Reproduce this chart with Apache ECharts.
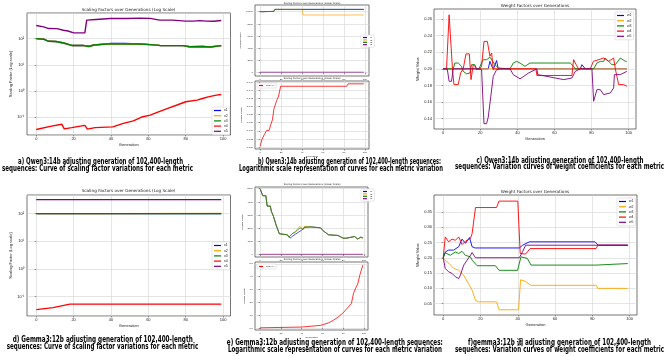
<!DOCTYPE html>
<html><head><meta charset="utf-8">
<script src="https://cdn.jsdelivr.net/npm/echarts@6/dist/echarts.min.js"></script>
<style>html,body{margin:0;padding:0;background:#fff}#c{width:668px;height:356px}</style>
</head><body><div id="c"></div>
<script>
// ---------- DATA ----------
const generationTicks = [0, 20, 40, 60, 80, 100];
const scaleNames = ['x1', 'x2', 'x3', 'x4', 'x5'];
const weightNames = ['w1', 'w2', 'w3', 'w4', 'w5'];
const bTopTicks = [0, 2000, 4000, 6000, 8000, 10000];
const bBotTicks = [0.030, 0.032, 0.034, 0.036, 0.038, 0.040, 0.042, 0.044, 0.046];
const cTicks = [0.14, 0.16, 0.18, 0.20, 0.22, 0.24, 0.26];
const eTopTicks = [0, 1000, 2000, 3000, 4000, 5000];
const eBotTicks = [0, 1, 2, 3, 4, 5];
const fTicks = [0.05, 0.10, 0.15, 0.20, 0.25, 0.30, 0.35];

// (a) Qwen3:14b scaling factors, log scale  [generation, value]
const aX1 = [[0,100],[4,95],[6.6,79],[10.5,78],[14.6,68],[19,55],[25,55],[28,51],[31,57],[37.7,63],[40,66],[47,66],[48,62],[55.5,62],[61,59],[66,55],[78.6,54],[82,49],[89,50],[93,48],[99,54]];
const aX2 = [[0,100],[4,95],[6.6,79],[10.5,78],[14.6,68],[19,55],[25,55],[28,50],[31,57],[37.7,62],[47,62],[55.5,62],[61,59],[66,55],[78.6,54],[82,49],[89,50],[93,48],[99,54]];
const aX3 = [[0,100],[4,95],[6.6,79],[10.5,78],[14.6,68],[19,55],[25,55],[28,50],[31,57],[37.7,62],[47,62],[55.5,62],[61,59],[66,55],[78.6,54],[82,49],[89,50],[93,48],[99,54]];
const aX4 = [[0,0.034],[7.5,0.045],[13.7,0.054],[15,0.036],[19,0.04],[26,0.049],[27.4,0.035],[31.5,0.04],[41,0.043],[46.6,0.058],[52,0.073],[56.4,0.102],[61,0.12],[64,0.147],[70,0.214],[75,0.287],[80,0.39],[86,0.45],[89,0.52],[92,0.6],[96.4,0.7],[99,0.74]];
const aX5 = [[0,316],[4,282],[6.6,242],[11,240],[14.6,209],[17,195],[20,165],[26,165],[27,508],[32,540],[39.5,588],[48,588],[55.5,605],[61,590],[66,508],[73,508],[80,465],[84,465],[87.5,485],[91,465],[95,460],[99,490]];

// (b) Qwen3:14b linear scale
const bTopX1 = [[0,10000],[13,10050],[14,10380],[99,10380]];
const bTopX2 = [[0,10000],[13,10050],[14,10380],[40,10380],[41,9460],[99,9460]];
const bTopX3 = [[0,10000],[13,10050],[14,10380],[99,10380]];
const bTopX5 = [[0,80],[99,80]];
const bBotX4 = [[0,0.0302],[1.6,0.0318],[3.8,0.033],[6.3,0.0341],[8.5,0.0341],[10,0.0354],[11.7,0.0367],[12.6,0.0371],[13.2,0.0395],[14.8,0.0399],[15.8,0.0415],[17.4,0.0424],[19.6,0.045],[82.6,0.045],[84,0.0456],[99,0.0456]];

// (c) Qwen3:14b weights
const cW1 = [[0,0.2],[24.3,0.2],[25.2,0.209],[27,0.199],[28.8,0.21],[29.7,0.2],[73.9,0.2],[74.8,0.205],[76.6,0.2],[99,0.2]];
const cW2 = [[0,0.2],[99,0.2]];
const cW3 = [[0,0.2],[5.4,0.2],[6.3,0.207],[8.1,0.207],[9.9,0.203],[10.8,0.197],[12.6,0.194],[14.4,0.195],[15.3,0.205],[17.1,0.205],[18,0.199],[19.5,0.201],[20.7,0.207],[21.6,0.211],[23.4,0.211],[25.2,0.214],[26.7,0.209],[27.9,0.205],[29.7,0.201],[30.6,0.2],[36,0.2],[37.8,0.207],[39.6,0.209],[41.4,0.207],[44.1,0.203],[46.8,0.207],[50.5,0.207],[51.4,0.206],[68.5,0.207],[70.3,0.203],[71.2,0.2],[81.1,0.2],[82.9,0.207],[84.7,0.209],[86.5,0.209],[87.4,0.213],[89.2,0.209],[91,0.205],[92.8,0.205],[95.5,0.213],[98.2,0.209],[99,0.209]];
const cW4 = [[0,0.2],[1.8,0.2],[3.2,0.265],[4.1,0.265],[5,0.2],[5.8,0.181],[8.1,0.181],[9.4,0.195],[10.8,0.2],[12.3,0.218],[14.1,0.218],[15,0.187],[16.2,0.205],[18,0.201],[19.5,0.199],[20.7,0.203],[22,0.233],[23.8,0.233],[25.2,0.215],[26.1,0.219],[27,0.2],[50,0.2],[50.5,0.192],[69.4,0.192],[70.3,0.211],[71.7,0.205],[73,0.2],[79.3,0.2],[81,0.209],[86.5,0.213],[89.2,0.209],[91.9,0.213],[92.8,0.2],[94.6,0.181],[97.3,0.181],[99,0.179]];
const cW5 = [[0,0.2],[2.2,0.2],[3.2,0.185],[4.5,0.185],[5.4,0.2],[19.5,0.2],[20.7,0.199],[22,0.134],[23.4,0.134],[24.3,0.142],[25.2,0.142],[27,0.191],[28.8,0.199],[30.6,0.2],[36,0.2],[37.8,0.193],[41.4,0.188],[43.5,0.191],[46,0.195],[50.5,0.2],[51,0.193],[65,0.187],[69.4,0.189],[71.2,0.197],[73.9,0.2],[80.2,0.2],[81.1,0.161],[82.9,0.175],[84.7,0.175],[86.5,0.169],[90.1,0.171],[91.9,0.177],[92.3,0.193],[95.5,0.193],[99,0.197]];

// (d) Gemma3:12b scaling factors, log scale
const dX1 = [[0,100],[99,100]];
const dX2 = [[0,100],[42,100],[43,102],[99,102]];
const dX3 = [[0,100],[99,100]];
const dX4 = [[0,0.034],[9,0.04],[18,0.054],[99,0.054]];
const dX5 = [[0,316],[99,316]];

// (e) Gemma3:12b linear scale
const eTopX1 = [[0,5000],[2.5,4470],[5.5,4470],[6.8,3680],[9.8,3680],[10.8,3290],[12.9,2890],[15.4,2240],[18.5,1580],[26.2,1500],[27.7,1400],[29,1250],[31,1380],[34,1550],[37,1700],[40,1850],[43,2080],[49,2100],[58,2030],[61.5,1760],[66,1500],[75,1450],[80,1240],[83,1240],[84.6,1370],[91,1370],[94,1180],[97,1320],[99,1260]];
const eTopX2 = [[0,5000],[2.5,4470],[5.5,4470],[6.8,3680],[9.8,3680],[10.8,3290],[12.9,2890],[15.4,2240],[18.5,1580],[26.2,1500],[27.7,1320],[30.8,1580],[33.8,1710],[38,2150],[41,2000],[43,2150],[49,2100],[58,2030],[61.5,1760],[66,1500],[75,1450],[80,1240],[83,1240],[84.6,1370],[91,1370],[94,1180],[97,1320],[99,1260]];
const eTopX3 = [[0,5000],[2.5,4470],[5.5,4470],[6.8,3680],[9.8,3680],[10.8,3290],[12.9,2890],[15.4,2240],[18.5,1580],[26.2,1500],[27.7,1320],[30.8,1580],[33.8,1710],[38.5,2030],[41.5,1900],[43,2080],[49,2100],[58,2030],[61.5,1760],[66,1500],[75,1450],[80,1240],[83,1240],[84.6,1370],[91,1370],[94,1180],[97,1320],[99,1260]];
const eTopX5 = [[0,20],[99,20]];
const eBotX4 = [[0,0.0],[40,0.06],[58,0.19],[66,0.39],[71,0.61],[75,0.83],[78,1.03],[80,1.17],[83,1.44],[86,1.72],[88,1.92],[89.5,2.0],[90,2.7],[92,3.1],[94,3.4],[96,4.1],[97.5,4.5],[99,4.9]];

// (f) Gemma3:12b weights
const fW1 = [[0,0.2],[1.1,0.219],[2.9,0.225],[5.6,0.225],[8.3,0.236],[10.1,0.261],[11.9,0.247],[14.1,0.266],[15.5,0.236],[17,0.232],[40.8,0.232],[42.6,0.241],[46.2,0.252],[81.4,0.252],[83.2,0.241],[99,0.241]];
const fW2 = [[0,0.2],[1.1,0.192],[2.9,0.183],[5.6,0.165],[8.3,0.159],[11,0.143],[13.5,0.116],[15.5,0.094],[17.3,0.061],[19.1,0.056],[28.6,0.056],[30,0.03],[40.4,0.03],[41.5,0.128],[44,0.123],[47,0.11],[82,0.11],[83,0.1],[99,0.1]];
const fW3 = [[0,0.2],[1.1,0.216],[3.8,0.208],[6.5,0.219],[8.3,0.214],[10.1,0.221],[11.9,0.208],[14.6,0.203],[15.5,0.192],[18.2,0.174],[28,0.174],[29.9,0.159],[39.9,0.159],[41.7,0.203],[45.1,0.198],[47.1,0.176],[82,0.176],[83,0.181],[99,0.181]];
const fW4 = [[0,0.2],[1.1,0.268],[2.9,0.252],[4.7,0.261],[6.5,0.257],[8.3,0.268],[10.1,0.243],[11.9,0.254],[12.8,0.252],[14.6,0.263],[15.5,0.279],[17.3,0.364],[28.6,0.364],[29.9,0.385],[40,0.385],[41.3,0.214],[44.2,0.212],[46.6,0.23],[82,0.23],[83,0.241],[99,0.241]];
const fW5 = [[0,0.2],[1.1,0.165],[2.9,0.154],[4.7,0.149],[6.5,0.138],[8.3,0.132],[9.2,0.143],[11,0.176],[12.8,0.192],[14.6,0.208],[15.5,0.217],[17.3,0.2],[40.8,0.2],[42.6,0.22],[44.2,0.241],[99,0.241]];

// ---------- TEXT ----------
const titleLog = 'Scaling Factors over Generations (Log Scale)';
const titleLin = 'Scaling Factors over Generations (Linear Scale)';
const titleW = 'Weight Factors over Generations';
const captions = {
  a: ['a) Qwen3:14b adjusting generation of 102,400-length', 'sequences: Curve of scaling factor variations for each metric'],
  b: ['b) Qwen3:14b adjusting generation of 102,400-length sequences:', 'Logarithmic scale representation of curves for each metric variation'],
  c: ['c) Qwen3:14b adjusting generation of 102,400-length', 'sequences: Variation curves of weight coefficients for each metric'],
  d: ['d) Gemma3:12b adjusting generation of 102,400-length', 'sequences: Curve of scaling factor variations for each metric'],
  e: ['e) Gemma3:12b adjusting generation of 102,400-length sequences:', 'Logarithmic scale representation of curves for each metric variation'],
  f: ['f)gemma3:12b 调 adjusting generation of 102,400-length', 'sequences: Variation curves of weight coefficients for each metric']
};

// ---------- BUILD ----------
const COL = {x1:'#0000ff', x2:'#ffa500', x3:'#008000', x4:'#ff0000', x5:'#800080',
             w1:'#0000ff', w2:'#ffa500', w3:'#008000', w4:'#ff0000', w5:'#800080', 'Scale x4':'#ff0000'};
const SUP = {'-':'⁻','0':'⁰','1':'¹','2':'²','3':'³','4':'⁴','5':'⁵'};
function supLabel(v){ const e = Math.round(Math.log10(v)); return '10' + String(e).split('').map(c=>SUP[c]).join(''); }

const grids = [
  {left:27, top:13, width:203.5, height:122},   // 0 a
  {left:255, top:5, width:114, height:71},      // 1 b top
  {left:255, top:81, width:114, height:68},     // 2 b bottom
  {left:434, top:9, width:202, height:120},     // 3 c
  {left:27, top:195, width:203.5, height:121},  // 4 d
  {left:255, top:187, width:113, height:70},    // 5 e top
  {left:255, top:262, width:113, height:68},    // 6 e bottom
  {left:434, top:195, width:203, height:120}    // 7 f
].map(g => Object.assign({show:true, borderColor:'#3a3a3a', borderWidth:0.7, backgroundColor:'#fff'}, g));

const GRIDLINE = {show:true, lineStyle:{color:'#d4d4d4', width:0.6}};
function xAx(gi, fs, gap, showName){
  return {type:'value', gridIndex:gi, min:-4.95, max:103.95,
    name: showName ? 'Generation' : '', nameLocation:'middle', nameGap:gap, nameTextStyle:{fontSize:fs, color:'#222'},
    axisLine:{show:false}, axisTick:{show:true, length:1.5, customValues:generationTicks, lineStyle:{color:'#333', width:0.5}},
    axisLabel:{fontSize:fs, color:'#222', margin:2, customValues:generationTicks},
    splitLine:GRIDLINE};
}
function linY(gi, fs, min, max, ticks, name, gap, fmt){
  return {type:'value', gridIndex:gi, min, max, name, nameLocation:'middle', nameRotate:90, nameGap:gap,
    nameTextStyle:{fontSize:fs, color:'#222'}, axisLine:{show:false},
    axisTick:{show:true, length:1.5, customValues:ticks, lineStyle:{color:'#333', width:0.5}},
    axisLabel:{fontSize:fs, color:'#222', margin:2, customValues:ticks, formatter:fmt},
    splitLine:GRIDLINE};
}
function logY(gi, fs, min, max, name, gap){
  return {type:'log', logBase:10, gridIndex:gi, min, max, name, nameLocation:'middle', nameRotate:90, nameGap:gap,
    nameTextStyle:{fontSize:fs, color:'#222'}, axisLine:{show:false},
    axisTick:{show:true, length:1.5, lineStyle:{color:'#333', width:0.5}},
    axisLabel:{fontSize:fs, color:'#222', margin:3, formatter:supLabel, showMinLabel:false, showMaxLabel:false},
    splitLine:GRIDLINE};
}

const xAxis = [xAx(0,4,8,true), xAx(1,2.5,5,false), xAx(2,2.5,5,true), xAx(3,4,8,true),
               xAx(4,4,8,true), xAx(5,2.5,5,false), xAx(6,2.5,5,true), xAx(7,4,8,true)];
const yAxis = [
  logY(0, 4, 0.021, 950, 'Scaling Factor (Log scale)', 14),
  linY(1, 2.5, -540, 11100, bTopTicks, 'Scaling Factor', 10, v => String(Math.round(v))),
  linY(2, 2.5, 0.0295, 0.0463, bBotTicks, 'Scaling Factor', 10, v => v.toFixed(3)),
  linY(3, 4, 0.1276, 0.272, cTicks, 'Weight Value', 14, v => v.toFixed(2)),
  logY(4, 4, 0.02, 467, 'Scaling Factor (Log scale)', 14),
  linY(5, 2.5, -185, 5130, eTopTicks, 'Scaling Factor', 9, v => String(Math.round(v))),
  linY(6, 2.5, -0.17, 5.14, eBotTicks, 'Scaling Factor', 9, v => v.toFixed(1)),
  linY(7, 4, 0.013, 0.405, fTicks, 'Weight Value', 14, v => v.toFixed(2))
];

function ln(gi, name, data, w){
  const color = COL[name];
  return {type:'line', name, xAxisIndex:gi, yAxisIndex:gi, data, symbol:'none', showSymbol:false,
    lineStyle:{color, width:w}, itemStyle:{color}, silent:true, animation:false};
}
const series = [
  ln(0,'x1',aX1,1.4), ln(0,'x2',aX2,1.4), ln(0,'x3',aX3,1.4), ln(0,'x4',aX4,1.4), ln(0,'x5',aX5,1.4),
  ln(1,'x1',bTopX1,0.7), ln(1,'x2',bTopX2,0.7), ln(1,'x3',bTopX3,0.7), ln(1,'x5',bTopX5,0.7),
  ln(2,'Scale x4',bBotX4,0.8),
  ln(3,'w1',cW1,0.9), ln(3,'w2',cW2,0.9), ln(3,'w3',cW3,0.9), ln(3,'w4',cW4,0.9), ln(3,'w5',cW5,0.9),
  ln(4,'x1',dX1,1.2), ln(4,'x2',dX2,1.2), ln(4,'x3',dX3,1.2), ln(4,'x4',dX4,1.2), ln(4,'x5',dX5,1.2),
  ln(5,'x1',eTopX1,0.7), ln(5,'x2',eTopX2,0.7), ln(5,'x3',eTopX3,0.7), ln(5,'x5',eTopX5,0.7),
  ln(6,'Scale x4',eBotX4,0.8),
  ln(7,'w1',fW1,0.9), ln(7,'w2',fW2,0.9), ln(7,'w3',fW3,0.9), ln(7,'w4',fW4,0.9), ln(7,'w5',fW5,0.9)
];

function lg(names, left, top, fs, iw, gap){
  return {data:names, left, top, orient:'vertical', icon:'rect', itemWidth:iw, itemHeight:1.2, itemGap:gap,
    textStyle:{fontSize:fs, color:'#222', padding:[0,0,0,-2]}, borderColor:'#ccc', borderWidth:0.5, borderRadius:1,
    padding:[1.5,2], backgroundColor:'#fff', selectedMode:false};
}
const legend = [
  lg(scaleNames, 212, 107, 3.5, 7, 1.2),
  lg(['x1','x2','x3','x5'], 361, 35, 2.2, 4, 0.4),
  lg(['Scale x4'], 257, 83, 2.2, 4, 0.4),
  lg(weightNames, 615, 12, 3.5, 7, 1.2),
  lg(scaleNames, 212, 242, 3.5, 7, 1.2),
  lg(['x1','x2','x3','x5'], 361, 189, 2.2, 4, 0.4),
  lg(['Scale x4'], 257, 264, 2.2, 4, 0.4),
  lg(weightNames, 617, 198, 3.5, 7, 1.2)
];

// text graphics
const mctx = document.createElement('canvas').getContext('2d');
function fitText(text, cx, cy, font, targetW, fill){
  mctx.font = font;
  const w = mctx.measureText(text).width;
  return {type:'text', x:cx, y:cy, scaleX: targetW ? targetW / w : 1, silent:true,
    style:{text, font, fill: fill || '#000', textAlign:'center', textVerticalAlign:'middle'}};
}
const capFont = 'bold 8px "Liberation Sans Narrow", "DejaVu Sans Condensed", "Liberation Sans", "Noto Sans CJK SC", sans-serif';
const titleFont = '4.2px "DejaVu Sans", sans-serif';
const smallTitleFont = '2.4px "DejaVu Sans", sans-serif';
const graphic = [
  fitText(titleLog, 128.5, 10, titleFont, 0, '#222'),
  fitText(titleLog, 128.5, 190.5, titleFont, 0, '#222'),
  fitText(titleLin, 312, 3.2, smallTitleFont, 0, '#222'),
  fitText(titleLin, 312, 78.8, smallTitleFont, 0, '#222'),
  fitText(titleLin, 312, 184.6, smallTitleFont, 0, '#222'),
  fitText(titleLin, 312, 259.6, smallTitleFont, 0, '#222'),
  fitText(titleW, 535, 5.7, titleFont, 0, '#222'),
  fitText(titleW, 535, 191.7, titleFont, 0, '#222'),
  fitText(captions.a[0], 100.5, 162, capFont, 165), fitText(captions.a[1], 97.5, 168.7, capFont, 191),
  fitText(captions.b[0], 349.5, 162, capFont, 183), fitText(captions.b[1], 341, 168.7, capFont, 204),
  fitText(captions.c[0], 560, 160.5, capFont, 167), fitText(captions.c[1], 559.5, 167.3, capFont, 209),
  fitText(captions.d[0], 102.7, 339.5, capFont, 180), fitText(captions.d[1], 102.5, 346.5, capFont, 191.6),
  fitText(captions.e[0], 334.8, 343.3, capFont, 216), fitText(captions.e[1], 335, 350, capFont, 214),
  fitText(captions.f[0], 559.5, 343.3, capFont, 183), fitText(captions.f[1], 559.5, 350, capFont, 209)
];

const chart = echarts.init(document.getElementById('c'), null, {renderer:'canvas', width:668, height:356});
chart.setOption({animation:false, backgroundColor:'#fff', grid:grids, xAxis, yAxis, series, legend, graphic, tooltip:{show:false}});
</script>
</body></html>
